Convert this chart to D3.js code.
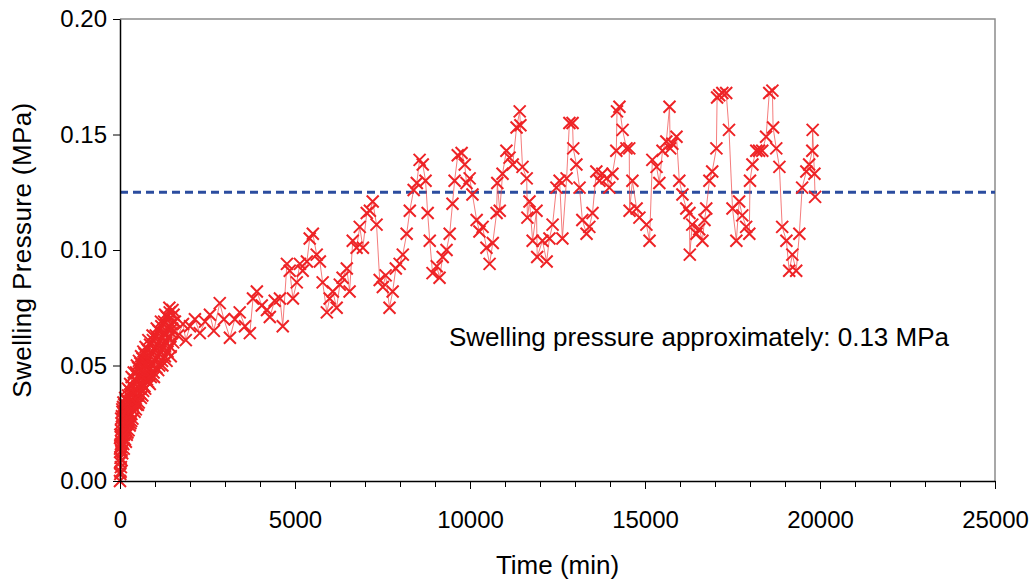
<!DOCTYPE html>
<html>
<head>
<meta charset="utf-8">
<script src="https://cdn.jsdelivr.net/npm/d3@7"></script>
<style>
  body { margin: 0; background: #fff; }
  svg text { font-family: Arial, "Liberation Sans", sans-serif; }
</style>
</head>
<body>
<svg class="chart"></svg>
<script>
// readings: [time (min), swelling pressure (MPa)]
const earlyReadings = [
  [0,0.000],[4,0.008],[8,0.003],[12,0.015],[16,0.010],[20,0.019],[25,0.006],[30,0.022],[36,0.013],[42,0.025],
  [48,0.017],[55,0.028],[62,0.012],[70,0.030],[78,0.019],[86,0.032],[94,0.016],[102,0.027],[112,0.020],[122,0.033],
  [132,0.024],[142,0.018],[152,0.030],[162,0.022],[172,0.035],[182,0.025],[192,0.020],[205,0.032],[218,0.026],[231,0.037],
  [244,0.022],[257,0.034],[270,0.028],[283,0.039],[296,0.025],[310,0.035],[325,0.029],[340,0.041],[355,0.027],[370,0.038],
  [385,0.032],[400,0.044],[415,0.030],[430,0.040],[445,0.035],[460,0.047],[475,0.033],[490,0.043],[505,0.037],[520,0.049],
  [535,0.034],[550,0.045],[565,0.040],[580,0.051],[595,0.036],[615,0.047],[630,0.042],[645,0.053],[660,0.039],[675,0.049],
  [690,0.044],[705,0.055],[720,0.040],[740,0.051],[760,0.046],[780,0.057],[800,0.043],[820,0.053],[840,0.048],[860,0.059],
  [880,0.045],[900,0.055],[920,0.050],[940,0.061],[960,0.047],[980,0.057],[1000,0.052],[1020,0.063],[1040,0.049],[1060,0.059],
  [1080,0.054],[1100,0.065],[1120,0.050],[1140,0.061],[1160,0.056],[1180,0.067],[1200,0.052],[1220,0.062],[1240,0.058],[1260,0.069],
  [1280,0.054],[1300,0.064],[1320,0.060],[1340,0.071],[1360,0.056],[1380,0.066],[1400,0.062],[1420,0.073],[1440,0.058],[1460,0.068],
  [1480,0.064],[1500,0.074],[1520,0.060],[1540,0.069]
];

// in-between readings of the dense start-up phase
const earlyFillReadings = [
  [2,0.014],[10,0.020],[18,0.004],[27,0.016],[33,0.027],[45,0.009],[58,0.020],[66,0.031],[82,0.024],[98,0.034],
  [108,0.014],[127,0.028],[147,0.036],[167,0.017],[187,0.030],[212,0.021],[225,0.040],[250,0.029],[277,0.024],[290,0.042],
  [318,0.026],[333,0.045],[362,0.033],[392,0.047],[422,0.036],[452,0.031],[482,0.050],[512,0.033],[542,0.052],[572,0.038],
  [602,0.054],[637,0.037],[667,0.056],[697,0.041],[730,0.058],[770,0.044],[810,0.061],[850,0.042],[890,0.051],[930,0.063],
  [970,0.045],[1010,0.058],[1050,0.066],[1090,0.048],[1130,0.058],[1170,0.069],[1210,0.050],[1250,0.064],[1290,0.072],[1330,0.052],
  [1370,0.062],[1410,0.075],[1450,0.054],[1490,0.066],[1530,0.072]
];

const midReadings = [
  [1570,0.069],[1655,0.063],[1800,0.068],[1880,0.061],[2000,0.067],[2140,0.070],[2280,0.064],[2430,0.069],[2570,0.072],[2680,0.065],
  [2850,0.077],[2970,0.070],[3140,0.062],[3280,0.070],[3420,0.073],[3570,0.067],[3710,0.064],[3800,0.079],[3910,0.082],[4050,0.076],
  [4200,0.074],[4280,0.071],[4420,0.078],[4570,0.079],[4650,0.067],[4770,0.094],[4850,0.091],[4940,0.079],[5050,0.086],[5140,0.094],
  [5220,0.091],[5340,0.095],[5420,0.105],[5510,0.107],[5620,0.098],[5710,0.095],[5790,0.086],[5910,0.073],[5990,0.079],[6080,0.082],
  [6190,0.075],[6280,0.085],[6360,0.088],[6480,0.092],[6560,0.082],[6650,0.104],[6760,0.101],[6850,0.110],[6940,0.101],[7050,0.116],
  [7140,0.117],[7220,0.121],[7330,0.111],[7420,0.087],[7510,0.084],[7590,0.089],[7700,0.075],[7790,0.082],[7880,0.092],[7990,0.094],
  [8080,0.098],[8190,0.107],[8280,0.117],[8390,0.126],[8480,0.129],[8560,0.139],[8650,0.137],[8730,0.130],[8790,0.116],[8850,0.104],
  [8930,0.090],[9050,0.093],[9130,0.088],[9220,0.097],[9330,0.100],[9420,0.107],[9500,0.120],[9560,0.130],[9650,0.141],[9760,0.142],
  [9850,0.137],[9900,0.129]
];

const lateReadings = [
  [9990,0.131],[10070,0.124],[10190,0.113],[10270,0.108],[10360,0.110],[10470,0.101],[10560,0.094],[10650,0.103],[10760,0.116],[10780,0.129],
  [10850,0.117],[10930,0.133],[11040,0.143],[11130,0.140],[11220,0.137],[11330,0.153],[11420,0.160],[11440,0.154],[11500,0.136],[11620,0.131],
  [11640,0.114],[11700,0.121],[11790,0.104],[11900,0.117],[11920,0.097],[12070,0.104],[12190,0.095],[12270,0.105],[12360,0.111],[12470,0.127],
  [12560,0.130],[12640,0.105],[12760,0.131],[12840,0.155],[12930,0.155],[12950,0.144],[13040,0.137],[13130,0.127],[13210,0.113],[13330,0.107],
  [13410,0.110],[13500,0.116],[13610,0.134],[13700,0.130],[13780,0.133],[13900,0.131],[13980,0.127],[14070,0.133],[14180,0.143],[14200,0.160],
  [14270,0.162],[14360,0.152],[14470,0.144],[14550,0.144],[14560,0.117],[14640,0.130],[14760,0.118],[14840,0.114],[15040,0.111],[15130,0.104],
  [15210,0.139],[15330,0.136],[15410,0.129],[15500,0.143],[15610,0.147],[15700,0.162],[15720,0.144],[15780,0.146],[15900,0.149],[15980,0.130],
  [16070,0.124],[16180,0.118],[16270,0.116],[16280,0.098],[16350,0.111],[16470,0.107],[16550,0.109],[16640,0.104],[16700,0.113],[16750,0.118],
  [16840,0.130],[16920,0.134],[17040,0.144],[17060,0.166],[17120,0.167],[17210,0.168],[17320,0.168],[17400,0.152],[17500,0.118],[17610,0.104],
  [17690,0.121],[17780,0.115],[17890,0.110],[17980,0.107],[18000,0.130],[18070,0.137],[18180,0.143],[18260,0.143],[18350,0.143],[18460,0.149],
  [18550,0.168],[18640,0.169],[18660,0.153],[18750,0.144],[18840,0.136],[18920,0.110],[19040,0.104],[19120,0.091],[19210,0.098],[19320,0.091],
  [19410,0.107],[19490,0.127],[19610,0.134],[19690,0.137],[19780,0.143],[19790,0.152],[19840,0.133],[19860,0.123]
];

const estimatedPressure = 0.125;
const xTicks = d3.range(0, 25001, 1000);
const xLabelTicks = [0, 5000, 10000, 15000, 20000, 25000];
const yTicks = [0, 0.05, 0.10, 0.15, 0.20];

const readings = [...earlyReadings, ...earlyFillReadings, ...midReadings, ...lateReadings]
  .sort((a, b) => a[0] - b[0]);

const width = 1036;
const height = 584;
const marginTop = 19;
const marginRight = 41;
const marginBottom = 103;
const marginLeft = 120;

const x = d3.scaleLinear()
  .domain([0, 25000])
  .range([marginLeft, width - marginRight]);

const y = d3.scaleLinear()
  .domain([0, 0.2])
  .range([height - marginBottom, marginTop]);

const svg = d3.select("svg.chart")
  .attr("width", width)
  .attr("height", height)
  .attr("viewBox", `0 0 ${width} ${height}`);

// gray frame on top and right
svg.append("path")
  .attr("fill", "none")
  .attr("stroke", "#8c8c8c")
  .attr("stroke-width", 1.5)
  .attr("d", `M${x(0)},${y(0.2)}H${x(25000)}V${y(0)}`);

// estimated swelling pressure
svg.append("line")
  .attr("x1", x(0))
  .attr("x2", x(25000))
  .attr("y1", y(estimatedPressure))
  .attr("y2", y(estimatedPressure))
  .attr("stroke", "#2b4c9f")
  .attr("stroke-width", 3)
  .attr("stroke-dasharray", "8,5");

// connecting line
const line = d3.line()
  .x(d => x(d[0]))
  .y(d => y(d[1]));

svg.append("path")
  .datum(readings)
  .attr("fill", "none")
  .attr("stroke", "#f04848")
  .attr("stroke-opacity", 0.8)
  .attr("stroke-width", 0.9)
  .attr("d", line);

// x markers
svg.append("g")
  .attr("stroke", "#ee2326")
  .attr("stroke-width", 2)
  .attr("fill", "none")
  .selectAll("path")
  .data(readings)
  .join("path")
  .attr("transform", d => `translate(${x(d[0])},${y(d[1])})`)
  .attr("d", "M-6,-6L6,6M-6,6L6,-6");

// axes
svg.append("g")
  .attr("transform", `translate(0,${y(0)})`)
  .call(d3.axisBottom(x)
    .tickValues(xTicks)
    .tickSize(8)
    .tickSizeOuter(0)
    .tickPadding(22)
    .tickFormat(d => xLabelTicks.includes(d) ? d : ""))
  .call(g => g.selectAll(".tick line")
    .attr("y2", d => xLabelTicks.includes(d) ? 8 : 6))
  .call(g => g.select(".domain").attr("stroke-width", 1.5))
  .call(g => g.selectAll("text")
    .attr("fill", "#000")
    .style("font-size", "24px"));

svg.append("g")
  .attr("transform", `translate(${x(0)},0)`)
  .call(d3.axisLeft(y)
    .tickValues(yTicks)
    .tickSize(7)
    .tickSizeOuter(0)
    .tickPadding(6)
    .tickFormat(d3.format(".2f")))
  .call(g => g.select(".domain").attr("stroke-width", 1.5))
  .call(g => g.selectAll("text")
    .attr("fill", "#000")
    .style("font-size", "24px"));

// axis titles
svg.append("text")
  .attr("x", (x(0) + x(25000)) / 2)
  .attr("y", 574)
  .attr("text-anchor", "middle")
  .style("font-size", "26px")
  .text("Time (min)");

svg.append("text")
  .attr("transform", `translate(31,${(y(0) + y(0.2)) / 2}) rotate(-90)`)
  .attr("text-anchor", "middle")
  .style("font-size", "26px")
  .style("letter-spacing", "0.4px")
  .text("Swelling Pressure (MPa)");

svg.append("text")
  .attr("x", x(9400))
  .attr("y", y(0.0583))
  .style("font-size", "26px")
  .text("Swelling pressure approximately: 0.13 MPa");
</script>
</body>
</html>
